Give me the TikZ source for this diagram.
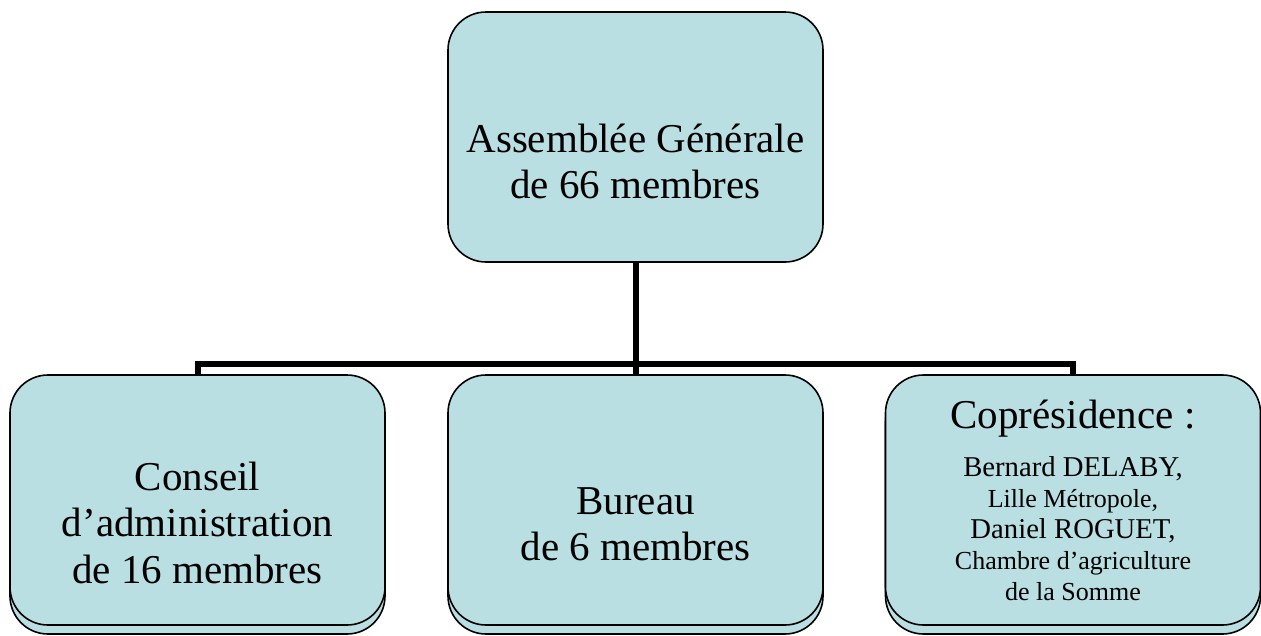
\documentclass[tikz,border=0pt]{standalone}
\usepackage{fontspec}
\setmainfont{Liberation Serif}
\usetikzlibrary{positioning,shadows}
\definecolor{boxblue}{RGB}{185,223,227}

\begin{document}
\begin{tikzpicture}[x=1pt,y=-1pt]
\tikzstyle{every node}+=[inner sep=0pt]
\tikzstyle{orgbox}=[draw=black, line width=1.6pt, fill=boxblue, rounded corners=38pt, minimum width=375pt, minimum height=250pt]
\tikzstyle{stacked}=[copy shadow={shadow xshift=0pt, shadow yshift=-9pt}]
\tikzstyle{orgtext}=[align=center, anchor=north, font=\fontsize{41}{46.5}\selectfont]
\tikzstyle{link}=[line width=6pt]
\useasboundingbox (0,0) rectangle (1261,635);
% boxes
\node[orgbox] (ag) at (635.5,137) {};
\node[orgbox,stacked] (ca) at (197.5,500) {};
\node[orgbox,stacked] (bu) at (635.5,500) {};
\node[orgbox,stacked] (cp) at (1073,500) {};
% texts
\node[orgtext] (agtext) at (635.5,119.5) {\strut Assemblée Générale\\de 66 membres};
\node[orgtext] (catext) at (197.5,457.5) {\strut Conseil\\d’administration\\de 16 membres};
\node[orgtext] (butext) at (635.5,481.5) {\strut Bureau\\de 6 membres};
\node[orgtext, font=\fontsize{26}{31}\selectfont] (cptext) at (1073,395.5) {{\fontsize{41}{46.5}\selectfont\strut Coprésidence :}\\[13pt]{\fontsize{28.7}{31}\selectfont Bernard DELABY,}\\Lille Métropole,\\{\fontsize{28.7}{31}\selectfont Daniel ROGUET,}\\Chambre d’agriculture\\de la Somme};
% links
\coordinate (bar) at (635.5,364);
\draw[link] (ag.south) -- (bu.north);
\draw[link] (ca.north) -- (ca.north |- bar) -- (cp.north |- bar) -- (cp.north);
\end{tikzpicture}
\end{document}
